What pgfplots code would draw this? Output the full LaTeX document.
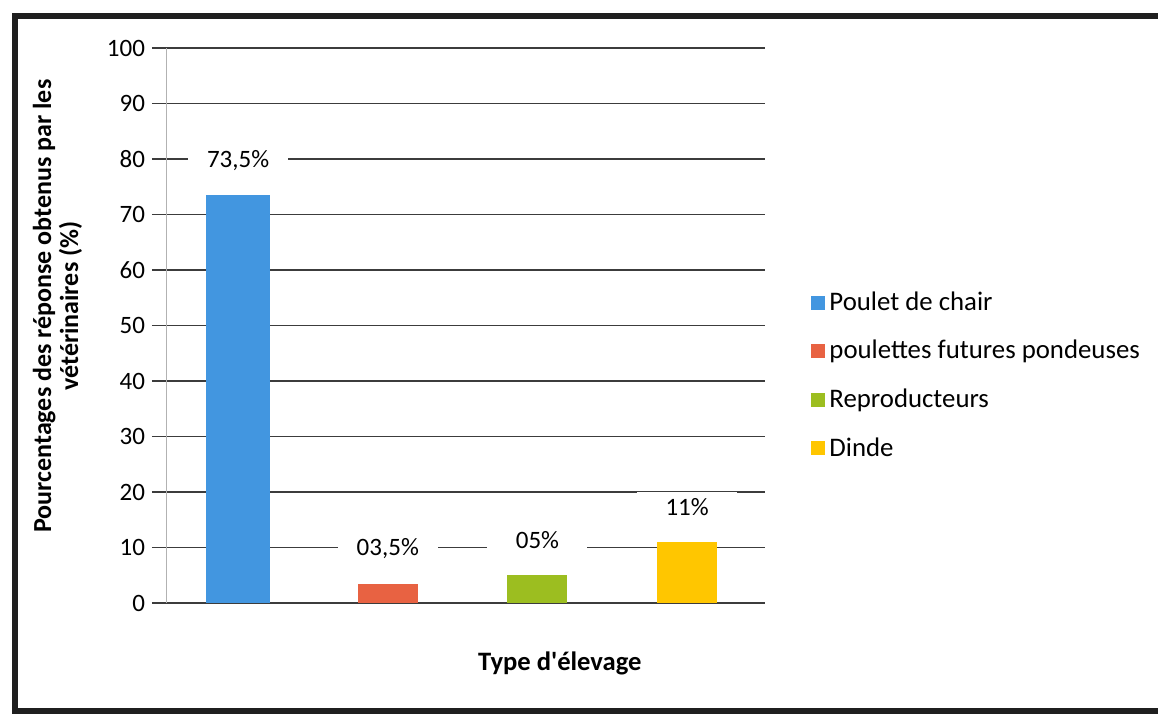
\documentclass[border=0pt]{standalone}
\usepackage{fontspec}
\setmainfont{Carlito}
\usepackage{pgfplots}
\pgfplotsset{compat=1.18}
\definecolor{barblue}{RGB}{66,150,224}
\definecolor{barred}{RGB}{232,98,66}
\definecolor{bargreen}{RGB}{156,190,32}
\definecolor{baryellow}{RGB}{255,198,0}
\definecolor{gridgray}{RGB}{60,60,60}
\begin{document}
\begin{tikzpicture}
\useasboundingbox (0pt,0pt) rectangle (579pt,360pt);
\clip (0pt,0pt) rectangle (579pt,360pt);
% outer chart frame
\draw[line width=3pt, black!88] (7.5pt,352pt) rectangle (592pt,4.5pt);
\begin{axis}[
  at={(83.5pt,58.5pt)}, anchor=south west,
  scale only axis, width=299pt, height=277.5pt,
  xmin=-0.475, xmax=3.52, ymin=0, ymax=100,
  ytick={0,10,...,100}, xtick=\empty,
  ymajorgrids, grid style={gridgray, line width=0.7pt},
  axis x line*=bottom, axis y line*=left,
  x axis line style={gridgray, line width=0.9pt, -},
  y axis line style={black!30, line width=0.5pt, -},
  tick align=outside, major tick length=7.5pt,
  ytick style={gridgray, line width=0.7pt},
  /pgf/number format/assume math mode=true,
  yticklabel style={font=\fontsize{12.5}{14}\selectfont},
  ylabel={Pourcentages des réponse obtenus par les\\vétérinaires (\%)},
  ylabel style={at={(axis description cs:-0.183,0.535)}, anchor=center,
    align=center, font=\bfseries\fontsize{13}{13.5}\selectfont},
  xlabel={Type d\textquotesingle élevage},
  xlabel style={at={(axis description cs:0.657,-0.108)}, anchor=center,
    font=\bfseries\fontsize{13.3}{15}\selectfont},
  legend style={at={(1.077,0.41)}, anchor=west, draw=none, fill=none,
    inner sep=0pt, font=\fontsize{13.4}{15}\selectfont, row sep=9.5pt,
    cells={anchor=west}},
  legend image code/.code={\fill[#1] (0pt,-3.5pt) rectangle (7pt,3.5pt);},
  point meta=explicit symbolic,
  nodes near coords,
  every node near coord/.append style={anchor=center, yshift=17.5pt,
    fill=white, minimum width=50pt, minimum height=15pt,
    font=\fontsize{12.5}{14}\selectfont, text=black},
]
\addplot[ybar, bar width=32pt, bar shift=0pt, fill=barblue, draw=none]
  coordinates {(0,73.5) [73,5\%]};
\addplot[ybar, bar width=30pt, bar shift=0pt, fill=barred, draw=none]
  coordinates {(1,3.5) [03,5\%]};
\addplot[ybar, bar width=30pt, bar shift=0pt, fill=bargreen, draw=none]
  coordinates {(2,5) [05\%]};
\addplot[ybar, bar width=30pt, bar shift=0pt, fill=baryellow, draw=none]
  coordinates {(3,11) [11\%]};
\legend{Poulet de chair, poulettes futures pondeuses, Reproducteurs, Dinde}
\end{axis}
\end{tikzpicture}
\end{document}
